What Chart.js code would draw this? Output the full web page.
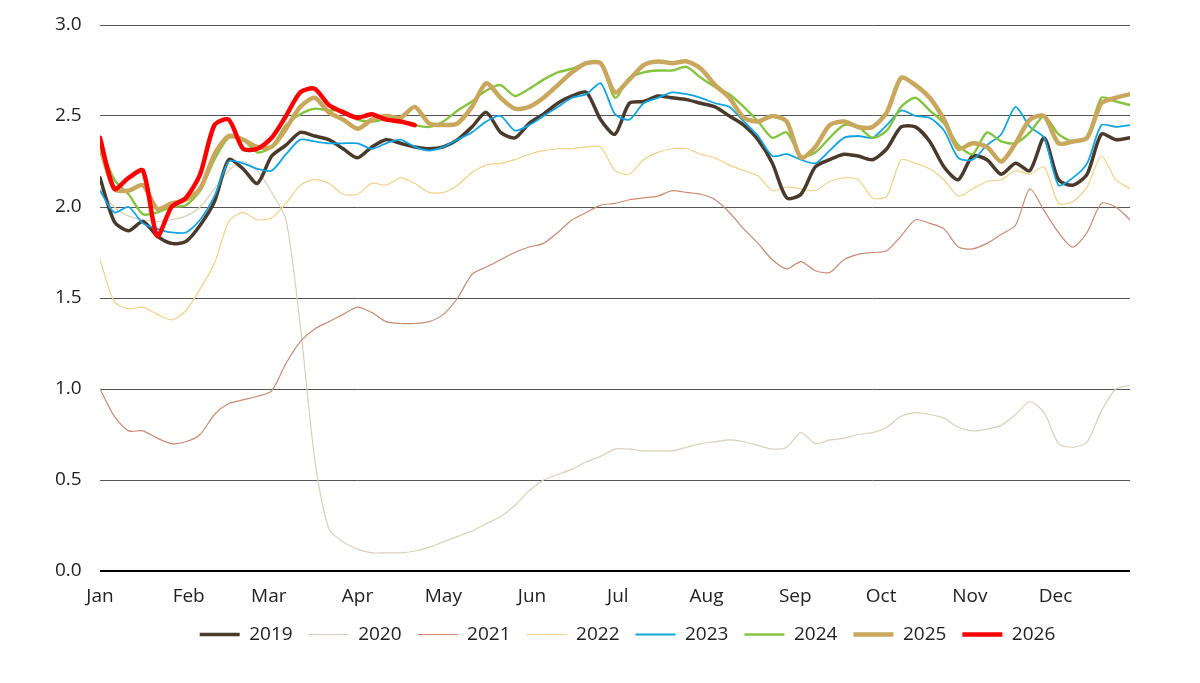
<!DOCTYPE html>
<html>
<head>
<meta charset="utf-8">
<script src="https://cdn.jsdelivr.net/npm/chart.js@4.4.1/dist/chart.umd.min.js"></script>
<style>
  html, body { margin: 0; padding: 0; background: #ffffff; }
  #wrap { width: 1200px; height: 683px; }
</style>
</head>
<body>
<div id="wrap"><canvas id="c" width="1200" height="683"></canvas></div>
<script>
// Day-of-year sample points (every 5 days)
const STEP_DAYS = 5;
const DAYS = Array.from({ length: 73 }, (_, i) => i * STEP_DAYS);

// Month tick labels and their day-of-year positions
const MONTHS = ["Jan","Feb","Mar","Apr","May","Jun","Jul","Aug","Sep","Oct","Nov","Dec"];
const MONTH_DAYS = [0,31,59,90,120,151,181,212,243,273,304,334];

// Y axis ticks
const Y_TICKS = [0, 0.5, 1.0, 1.5, 2.0, 2.5, 3.0];

const YEARS = ["2019","2020","2021","2022","2023","2024","2025","2026"];

const y2019 = [2.16,1.92,1.87,1.92,1.84,1.80,1.81,1.90,2.03,2.26,
               2.21,2.13,2.28,2.34,2.41,2.39,2.37,2.32,2.27,2.33,
               2.37,2.35,2.33,2.32,2.33,2.37,2.44,2.52,2.41,2.38,
               2.46,2.51,2.57,2.61,2.63,2.48,2.40,2.57,2.58,2.61,
               2.60,2.59,2.57,2.55,2.50,2.45,2.37,2.24,2.05,2.07,
               2.22,2.26,2.29,2.28,2.26,2.32,2.44,2.44,2.36,2.22,
               2.15,2.28,2.26,2.18,2.24,2.20,2.38,2.15,2.12,2.18,
               2.40,2.37,2.38];

const y2020 = [2.10,2.00,1.95,1.93,1.92,1.93,1.95,2.00,2.10,2.20,
               2.25,2.20,2.08,1.93,1.35,0.62,0.23,0.16,0.12,0.10,
               0.10,0.10,0.11,0.13,0.16,0.19,0.22,0.26,0.30,0.36,
               0.44,0.50,0.53,0.56,0.60,0.63,0.67,0.67,0.66,0.66,
               0.66,0.68,0.70,0.71,0.72,0.71,0.69,0.67,0.68,0.76,
               0.70,0.72,0.73,0.75,0.76,0.79,0.85,0.87,0.86,0.84,
               0.79,0.77,0.78,0.80,0.86,0.93,0.87,0.70,0.68,0.71,
               0.88,1.00,1.02];

const y2021 = [1.00,0.85,0.77,0.77,0.73,0.70,0.71,0.75,0.86,0.92,
               0.94,0.96,0.99,1.14,1.26,1.33,1.37,1.41,1.45,1.42,
               1.37,1.36,1.36,1.37,1.41,1.50,1.63,1.67,1.71,1.75,
               1.78,1.80,1.86,1.93,1.97,2.01,2.02,2.04,2.05,2.06,
               2.09,2.08,2.07,2.04,1.97,1.88,1.80,1.71,1.66,1.70,
               1.65,1.64,1.71,1.74,1.75,1.76,1.84,1.93,1.91,1.88,
               1.78,1.77,1.80,1.85,1.90,2.10,1.98,1.86,1.78,1.86,
               2.02,2.00,1.93];

const y2022 = [1.71,1.48,1.44,1.45,1.41,1.38,1.43,1.55,1.69,1.92,
               1.97,1.93,1.94,2.02,2.12,2.15,2.13,2.07,2.07,2.13,
               2.12,2.16,2.13,2.08,2.08,2.12,2.19,2.23,2.24,2.26,
               2.29,2.31,2.32,2.32,2.33,2.33,2.20,2.18,2.26,2.30,
               2.32,2.32,2.29,2.27,2.23,2.20,2.17,2.09,2.11,2.10,
               2.09,2.14,2.16,2.15,2.05,2.06,2.26,2.24,2.21,2.15,
               2.06,2.10,2.14,2.15,2.20,2.18,2.22,2.02,2.03,2.11,
               2.28,2.15,2.10];

const y2023 = [2.09,1.97,2.00,1.91,1.88,1.86,1.86,1.93,2.06,2.25,
               2.24,2.21,2.20,2.29,2.37,2.36,2.35,2.35,2.35,2.32,
               2.35,2.37,2.33,2.31,2.33,2.37,2.41,2.47,2.50,2.42,
               2.45,2.50,2.55,2.60,2.62,2.68,2.51,2.48,2.57,2.60,
               2.63,2.62,2.60,2.57,2.55,2.47,2.39,2.28,2.29,2.26,
               2.24,2.31,2.38,2.39,2.38,2.45,2.53,2.50,2.49,2.42,
               2.27,2.26,2.34,2.40,2.55,2.44,2.38,2.12,2.16,2.24,
               2.45,2.44,2.45];

const y2024 = [2.34,2.15,2.07,1.96,1.97,2.00,2.01,2.09,2.26,2.38,
               2.37,2.30,2.33,2.45,2.51,2.54,2.53,2.53,2.48,2.47,
               2.48,2.47,2.45,2.44,2.47,2.53,2.58,2.64,2.67,2.61,
               2.65,2.70,2.74,2.76,2.79,2.79,2.60,2.71,2.74,2.75,
               2.75,2.77,2.71,2.66,2.62,2.55,2.47,2.38,2.41,2.28,
               2.30,2.38,2.45,2.44,2.38,2.42,2.55,2.60,2.53,2.46,
               2.34,2.29,2.41,2.36,2.35,2.41,2.50,2.40,2.36,2.38,
               2.60,2.58,2.56];

const y2025 = [2.33,2.10,2.09,2.12,1.99,2.02,2.04,2.10,2.29,2.39,
               2.37,2.33,2.33,2.43,2.55,2.60,2.52,2.48,2.43,2.48,
               2.50,2.49,2.55,2.46,2.45,2.46,2.55,2.68,2.60,2.54,
               2.55,2.60,2.67,2.74,2.79,2.79,2.63,2.70,2.78,2.80,
               2.79,2.80,2.76,2.67,2.60,2.49,2.47,2.50,2.47,2.27,
               2.33,2.45,2.47,2.44,2.44,2.52,2.71,2.67,2.60,2.48,
               2.32,2.35,2.33,2.25,2.35,2.48,2.50,2.35,2.36,2.38,
               2.57,2.60,2.62];

const y2026 = [2.38,2.10,2.16,2.20,1.84,2.00,2.05,2.18,2.45,2.48,
               2.32,2.32,2.38,2.50,2.63,2.65,2.56,2.52,2.49,2.51,
               2.48,2.47,2.45];

const SERIES = [y2019, y2020, y2021, y2022, y2023, y2024, y2025, y2026];
const COLORS = ["#4a3a2c","#dccfb9","#c98a72","#f2d088","#10a4e2","#84c441","#c9a75c","#ff0000"];
const WIDTHS = [3.5, 1.2, 1.2, 1.2, 1.8, 2.4, 4.5, 4.5];
const DRAW_ORDER = [4, 7, 6, 5, 3, 2, 1, 0]; // lower = drawn on top

const datasets = YEARS.map((yr, k) => ({
  label: yr,
  data: SERIES[k],
  borderColor: COLORS[k],
  backgroundColor: COLORS[k],
  borderWidth: WIDTHS[k],
  pointRadius: 0,
  pointHoverRadius: 0,
  tension: 0.25,
  fill: false,
  order: DRAW_ORDER[k],
  borderCapStyle: 'round',
  borderJoinStyle: 'round',
  yAxisID: 'y'
}));

const FONT = "'Open Sans', 'Noto Sans', sans-serif";

new Chart(document.getElementById('c'), {
  type: 'line',
  data: { labels: DAYS, datasets },
  options: {
    responsive: false,
    animation: false,
    devicePixelRatio: 1,
    layout: { padding: { left: 55, right: 0, top: 25, bottom: 29 } },
    plugins: {
      tooltip: { enabled: false },
      legend: {
        position: 'bottom',
        labels: {
          usePointStyle: true,
          pointStyle: 'line',
          pointStyleWidth: 40,
          boxHeight: 16,
          padding: 16,
          color: '#222',
          font: { family: FONT, size: 19 },
          sort: (a, b) => a.datasetIndex - b.datasetIndex,
          generateLabels: (chart) => chart.data.datasets.map((ds, i) => ({
            text: ds.label,
            strokeStyle: ds.borderColor,
            fillStyle: ds.borderColor,
            lineWidth: ds.borderWidth,
            pointStyle: 'line',
            fontColor: '#222',
            hidden: false,
            datasetIndex: i
          }))
        }
      }
    },
    scales: {
      x: {
        type: 'linear',
        min: 0,
        max: 360,
        afterBuildTicks: (scale) => { scale.ticks = MONTH_DAYS.map(v => ({ value: v })); },
        afterFit: (scale) => { scale.height = 38; },
        ticks: {
          autoSkip: false,
          maxRotation: 0,
          padding: 14,
          color: '#222',
          font: { family: FONT, size: 19 },
          callback: (v) => { const k = MONTH_DAYS.indexOf(v); return k >= 0 ? MONTHS[k] : ''; }
        },
        grid: { display: false, drawTicks: false },
        border: { display: false }
      },
      y: {
        position: 'left',
        min: 0,
        max: 3,
        afterBuildTicks: (scale) => { scale.ticks = Y_TICKS.map(v => ({ value: v })); },
        afterFit: (scale) => { scale.width = 45; },
        ticks: {
          padding: 0,
          crossAlign: 'far',
          color: '#222',
          font: { family: FONT, size: 19 },
          callback: (v) => Number(v).toFixed(1)
        },
        grid: {
          drawTicks: false,
          color: (ctx) => ctx.tick && ctx.tick.value === 0 ? '#000000' : '#555555',
          lineWidth: (ctx) => ctx.tick && ctx.tick.value === 0 ? 2 : 1
        },
        border: { display: false }
      },
      yR: {
        position: 'right',
        display: true,
        min: 0,
        max: 3,
        afterFit: (scale) => { scale.width = 70; },
        ticks: { display: false },
        grid: { display: false, drawTicks: false },
        border: { display: false }
      }
    }
  }
});
</script>
</body>
</html>
